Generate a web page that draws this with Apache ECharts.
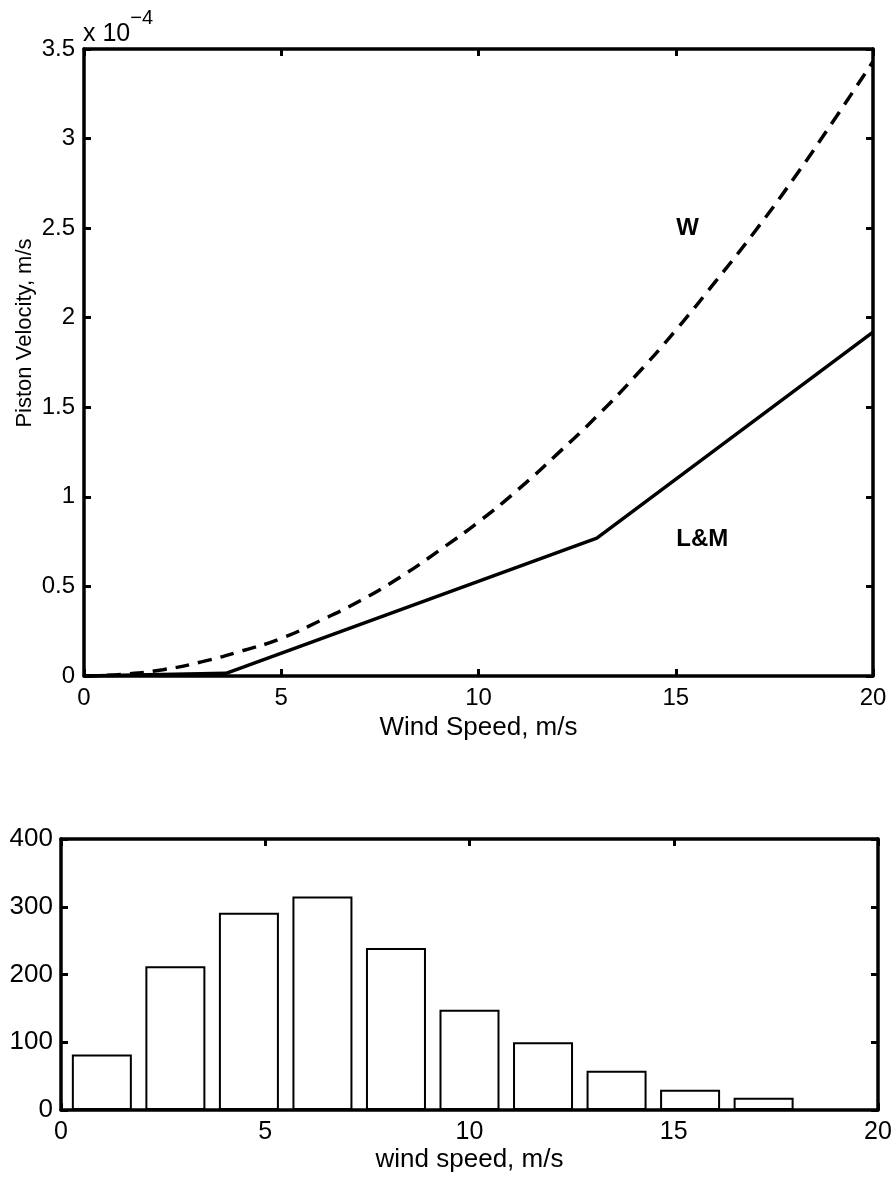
<!DOCTYPE html>
<html>
<head>
<meta charset="utf-8">
<script src="https://cdn.jsdelivr.net/npm/echarts@6/dist/echarts.min.js"></script>
<style>
  html, body { margin: 0; padding: 0; background: #fff; }
  #chart { width: 896px; height: 1178px; }
</style>
</head>
<body>
<div id="chart"></div>
<script>
// top panel: piston velocity (x 1e-4 m/s) against wind speed (m/s)
const wSpeed = [0, 1, 2, 3, 4, 5, 6, 7, 8, 9, 10, 11, 12, 13, 14, 15, 16, 17, 18, 19, 20];
const wVelocity = [0, 0.01, 0.035, 0.08, 0.14, 0.21, 0.31, 0.42, 0.55, 0.70, 0.86, 1.04, 1.24, 1.45, 1.68, 1.93, 2.20, 2.48, 2.78, 3.10, 3.43];
const lmSpeed = [0, 3.6, 13, 20];
const lmVelocity = [0, 0.015, 0.77, 1.92];

// curve labels, placed at [speed, velocity]
const curveNames = ["W", "L&M"];
const curveLabelAt = [[15, 2.5], [15, 0.76]];

// bottom panel: histogram of wind speed
const binCenters = [1.0, 2.8, 4.6, 6.4, 8.2, 10.0, 11.8, 13.6, 15.4, 17.2];
const binCounts = [82, 212, 291, 315, 239, 148, 100, 58, 30, 18];

const font = "'Liberation Sans', Arial, Helvetica, sans-serif";

const zip = (xs, ys) => xs.map((x, i) => [x, ys[i]]);

const lineAxis = { onZero: false, lineStyle: { color: "#000", width: 3.5 } };
const inTick = { inside: true, length: 7, lineStyle: { color: "#000", width: 3 } };
const tickLabel = { color: "#000", fontSize: 24, fontFamily: font };

// plain axis on the opposite side: line and inner ticks, no labels
const mirror = (grid, min, max, step, pos) => ({
  type: "value", gridIndex: grid, min: min, max: max, interval: step, position: pos,
  axisLine: lineAxis, axisTick: inTick, axisLabel: { show: false }, splitLine: { show: false },
});

const option = {
  animation: false,
  backgroundColor: "#fff",
  textStyle: { fontFamily: font, color: "#000" },
  grid: [
    { left: 84, right: 23, top: 49, height: 627, outerBoundsMode: "none" },
    { left: 61, right: 18, top: 839, height: 271, outerBoundsMode: "none" },
  ],
  xAxis: [
    {
      type: "value", gridIndex: 0, min: 0, max: 20, interval: 5, position: "bottom",
      axisLine: lineAxis, axisTick: inTick, splitLine: { show: false },
      axisLabel: Object.assign({ margin: 10 }, tickLabel),
      name: "Wind Speed, m/s", nameLocation: "middle", nameGap: 34,
      nameTextStyle: { fontSize: 26, color: "#000", fontFamily: font },
    },
    mirror(0, 0, 20, 5, "top"),
    {
      type: "value", gridIndex: 1, min: 0, max: 20, interval: 5, position: "bottom",
      axisLine: lineAxis, axisTick: inTick, splitLine: { show: false },
      axisLabel: Object.assign({ margin: 10 }, tickLabel, { fontSize: 25 }),
      name: "wind speed, m/s", nameLocation: "middle", nameGap: 37,
      nameTextStyle: { fontSize: 26, color: "#000", fontFamily: font },
    },
    mirror(1, 0, 20, 5, "top"),
  ],
  yAxis: [
    {
      type: "value", gridIndex: 0, min: 0, max: 3.5, interval: 0.5, position: "left",
      axisLine: lineAxis, axisTick: inTick, splitLine: { show: false },
      axisLabel: Object.assign({ margin: 9 }, tickLabel),
    },
    mirror(0, 0, 3.5, 0.5, "right"),
    {
      type: "value", gridIndex: 1, min: 0, max: 400, interval: 100, position: "left",
      axisLine: lineAxis, axisTick: inTick, splitLine: { show: false },
      axisLabel: Object.assign({ margin: 8 }, tickLabel, { fontSize: 26 }),
    },
    mirror(1, 0, 400, 100, "right"),
  ],
  graphic: [
    {
      type: "text", left: 83, top: 8,
      style: {
        text: "{a|x 10}{b|−4}",
        rich: {
          a: { fontSize: 25, fontFamily: font, fill: "#000", padding: [14, 0, 0, 0] },
          b: { fontSize: 20, fontFamily: font, fill: "#000", verticalAlign: "top" },
        },
      },
    },
    {
      type: "text", x: 25, y: 333, rotation: Math.PI / 2,
      style: {
        text: "Piston Velocity, m/s", fontSize: 22, fontFamily: font, fill: "#000",
        align: "center", verticalAlign: "middle",
      },
    },
  ],
  series: [
    {
      name: "W", type: "line", xAxisIndex: 0, yAxisIndex: 0,
      data: zip(wSpeed, wVelocity), showSymbol: false, smooth: true,
      lineStyle: { color: "#000", width: 3.5, type: [14, 9] },
    },
    {
      name: "L&M", type: "line", xAxisIndex: 0, yAxisIndex: 0,
      data: zip(lmSpeed, lmVelocity), showSymbol: false,
      lineStyle: { color: "#000", width: 3.5 },
    },
    {
      name: "labels", type: "scatter", xAxisIndex: 0, yAxisIndex: 0,
      data: curveLabelAt.map((p, i) => ({ name: curveNames[i], value: p })),
      symbol: "rect", symbolSize: 1, itemStyle: { color: "rgba(0,0,0,0)" },
      label: {
        show: true, position: "right", distance: 0, formatter: "{b}",
        color: "#000", opacity: 1, fontSize: 24, fontWeight: "bold", fontFamily: font,
      },
    },
    {
      name: "count", type: "bar", xAxisIndex: 2, yAxisIndex: 2,
      data: zip(binCenters, binCounts), barWidth: 60,
      itemStyle: { color: "#fff", borderColor: "#000", borderWidth: 2 },
    },
  ],
};

const chart = echarts.init(document.getElementById("chart"));
chart.setOption(option);
</script>
</body>
</html>
